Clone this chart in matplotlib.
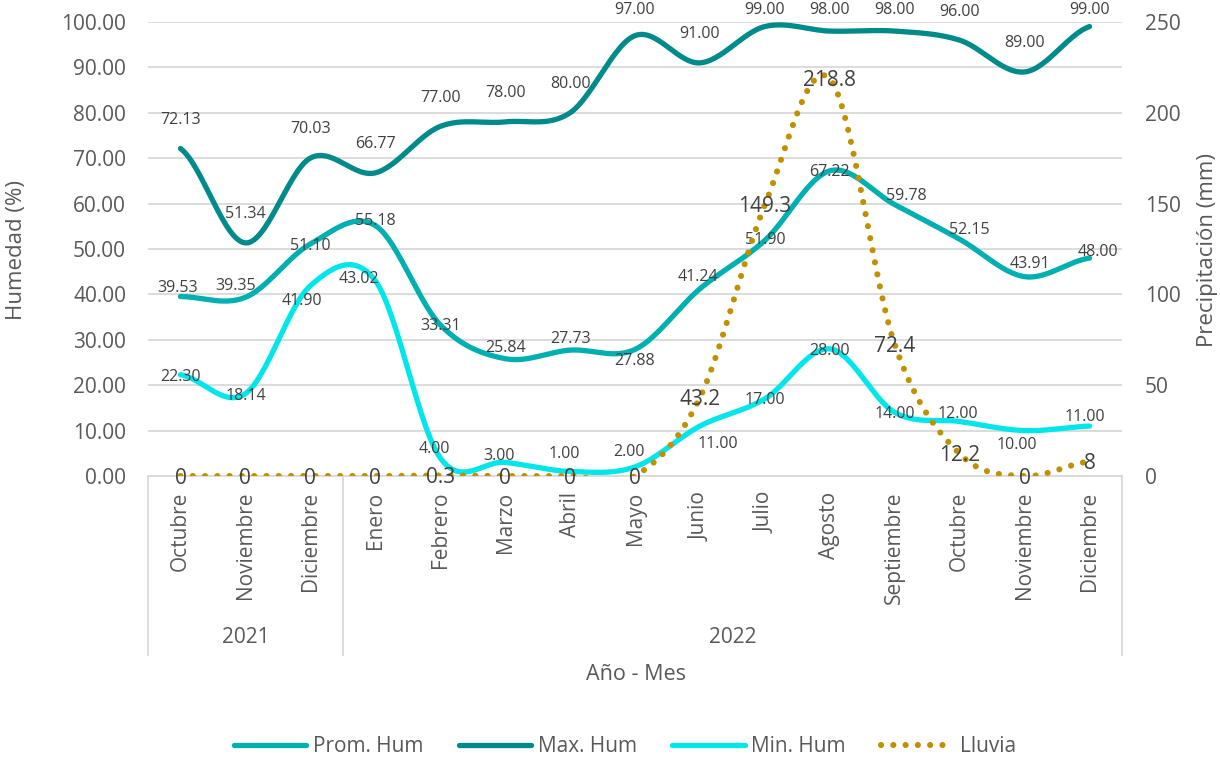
import numpy as np
import matplotlib
matplotlib.use("Agg")
import matplotlib.pyplot as plt
from matplotlib.lines import Line2D
from matplotlib.transforms import offset_copy, blended_transform_factory

plt.rcParams["font.family"] = ["Open Sans", "DejaVu Sans"]

meses = ["Octubre", "Noviembre", "Diciembre", "Enero", "Febrero", "Marzo", "Abril",
         "Mayo", "Junio", "Julio", "Agosto", "Septiembre", "Octubre", "Noviembre", "Diciembre"]
anios = ["2021", "2022"]
meses_por_anio = [3, 12]

prom_hum = [39.53, 39.35, 51.10, 55.18, 33.31, 25.84, 27.73, 27.88,
            41.24, 51.90, 67.22, 59.78, 52.15, 43.91, 48.00]
max_hum = [72.13, 51.34, 70.03, 66.77, 77.00, 78.00, 80.00, 97.00,
           91.00, 99.00, 98.00, 98.00, 96.00, 89.00, 99.00]
min_hum = [22.30, 18.14, 41.90, 43.02, 4.00, 3.00, 1.00, 2.00,
           11.00, 17.00, 28.00, 14.00, 12.00, 10.00, 11.00]
lluvia = [0, 0, 0, 0, 0.3, 0, 0, 0, 43.2, 149.3, 218.8, 72.4, 12.2, 0, 8]

# desplazamiento de las etiquetas en pixeles (dx, dy)
off_prom = [(-3, 9), (-10, 11), (0, -2), (0, 4), (0, -1), (0, 11), (0, 11), (0, -12),
            (-2, 12), (0, 0), (0, -1), (12, 9), (10, 9), (5, 13), (8, 6)]
off_min = [(0, -2), (0, -2), (-8, -15), (-16, 2), (-6, 9), (-6, 6), (-6, 17), (-6, 15),
           (18, -18), (0, -1), (0, -2), (0, -2), (-2, 8), (-8, -14), (-5, 9)]

C_PROM = "#00AFAF"
C_MAX = "#008A8A"
C_MIN = "#00E6EA"
C_LLUVIA = "#BF9000"
GRIS = "#D9D9D9"
TXT = "#595959"
ETQ = "#404040"

LW = 3.8
LW_PUNTOS = 4.4
PUNTEADO = (0, (0.01, 2.0))


def suavizar(y, pasos=30):
    # curva tipo Excel: bezier con puntos de control a 1/6 de los vecinos
    y = np.asarray(y, float)
    p = np.concatenate([[y[0]], y, [y[-1]]])
    t = np.linspace(0, 1, pasos, endpoint=False)
    xs, ys = [], []
    for i in range(len(y) - 1):
        p0, p1, p2, p3 = p[i], p[i + 1], p[i + 2], p[i + 3]
        c1 = p1 + (p2 - p0) / 6
        c2 = p2 - (p3 - p1) / 6
        seg = (1 - t) ** 3 * p1 + 3 * (1 - t) ** 2 * t * c1 + 3 * (1 - t) * t ** 2 * c2 + t ** 3 * p2
        xs.append(i + t)
        ys.append(seg)
    xs.append([len(y) - 1])
    ys.append([y[-1]])
    return np.concatenate(xs), np.concatenate(ys)


fig = plt.figure(figsize=(12.2, 7.61), dpi=100)
ax = fig.add_axes([148 / 1220, 285 / 761, 974 / 1220, 454 / 761])
ax2 = ax.twinx()

x = np.arange(len(meses))

for serie, color in [(prom_hum, C_PROM), (max_hum, C_MAX), (min_hum, C_MIN)]:
    xs, ys = suavizar(serie)
    ax.plot(xs, ys, color=color, lw=LW, solid_capstyle="round", zorder=3)

xs, ys = suavizar(lluvia)
ax2.plot(xs, ys, color=C_LLUVIA, lw=LW_PUNTOS, linestyle=PUNTEADO,
         dash_capstyle="round", zorder=3)

ax.set_xlim(-0.5, len(meses) - 0.5)
ax.set_ylim(0, 100)
ax2.set_ylim(0, 250)

ax.set_yticks(np.arange(0, 101, 10))
ax.set_yticklabels([f"{v:.2f}" for v in np.arange(0, 101, 10)])
ax2.set_yticks(np.arange(0, 251, 50))
ax.set_xticks(x)
ax.set_xticklabels(meses, rotation=90)

ax.tick_params(axis="y", length=0, pad=15.8, labelsize=15, labelcolor=TXT)
ax.tick_params(axis="x", length=0, pad=11.5, labelsize=15, labelcolor=TXT)
ax2.tick_params(axis="y", length=0, pad=16.5, labelsize=15, labelcolor=TXT)

ax.yaxis.grid(True, color=GRIS, lw=1.3)
ax.set_axisbelow(True)
for s in ["top", "left", "right"]:
    ax.spines[s].set_visible(False)
    ax2.spines[s].set_visible(False)
ax2.spines["bottom"].set_visible(False)
ax.spines["bottom"].set_color(GRIS)
ax.spines["bottom"].set_linewidth(1.3)

# etiquetas de datos
for i, v in enumerate(max_hum):
    ax.text(i, min(v + 6.3, 102.6), f"{v:.2f}", ha="center", va="center",
            fontsize=11.5, color=ETQ, zorder=4, clip_on=False)
for serie, offs in [(prom_hum, off_prom), (min_hum, off_min)]:
    for i, (v, (dx, dy)) in enumerate(zip(serie, offs)):
        tr = offset_copy(ax.transData, fig=fig, x=dx, y=dy, units="dots")
        ax.text(i, v, f"{v:.2f}", transform=tr, ha="center", va="center",
                fontsize=11.5, color=ETQ, zorder=4)
for i, v in enumerate(lluvia):
    tr = offset_copy(ax2.transData, fig=fig, x=0, y=-2, units="dots")
    ax2.text(i, v, f"{v:g}", transform=tr, ha="center", va="center",
             fontsize=15, color=ETQ, zorder=4, clip_on=False)

# eje de categorias con agrupacion por anio
trans = blended_transform_factory(ax.transData, ax.transAxes)
limites = np.concatenate([[0], np.cumsum(meses_por_anio)]) - 0.5
for b in limites:
    ax.plot([b, b], [0, -0.394], transform=trans, clip_on=False, color=GRIS, lw=1.3)
for anio, a, b in zip(anios, limites[:-1], limites[1:]):
    ax.text((a + b) / 2, -0.355, anio, transform=trans, ha="center", va="center",
            fontsize=15, color=TXT)

fig.text(17 / 1220, 1 - 250 / 761, "Humedad (%)", rotation=90, ha="center", va="center",
         fontsize=16, color=TXT)
fig.text(1207 / 1220, 1 - 250 / 761, "Precipitación (mm)", rotation=90, ha="center",
         va="center", fontsize=16, color=TXT)
fig.text(636 / 1220, 1 - 675 / 761, "Año - Mes", ha="center", va="center",
         fontsize=15.5, color=TXT)

handles = [
    Line2D([], [], color=C_PROM, lw=LW, solid_capstyle="round", label="Prom. Hum"),
    Line2D([], [], color=C_MAX, lw=LW, solid_capstyle="round", label="Max. Hum"),
    Line2D([], [], color=C_MIN, lw=LW, solid_capstyle="round", label="Min. Hum"),
    Line2D([], [], color=C_LLUVIA, lw=LW_PUNTOS, linestyle=PUNTEADO,
           dash_capstyle="round", label="Lluvia"),
]
leg = fig.legend(handles=handles, loc="center", bbox_to_anchor=(625 / 1220, 1 - 747 / 761),
                 ncol=4, frameon=False, fontsize=15, handlelength=3.5,
                 handletextpad=0.3, columnspacing=1.7)
for t in leg.get_texts():
    t.set_color(TXT)

fig.savefig("out.png", dpi=100)
